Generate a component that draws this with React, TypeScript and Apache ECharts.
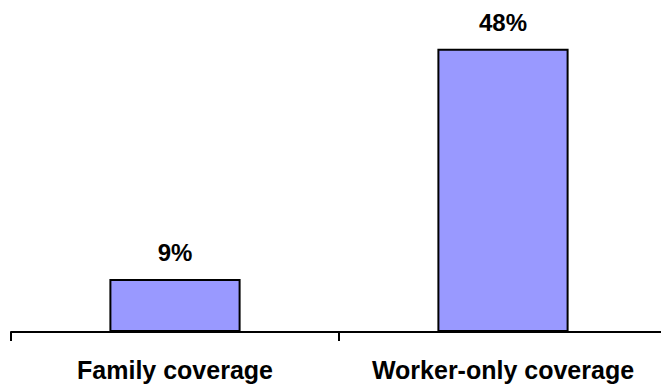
import React, { useEffect, useRef } from "react";
import * as echarts from "echarts";

const categories = ["Family coverage", "Worker-only coverage"];
const values = [9, 48];

export default function App() {
  const ref = useRef<HTMLDivElement>(null);
  useEffect(() => {
    if (!ref.current) return;
    const chart = echarts.init(ref.current, null, { renderer: "svg" });
    chart.setOption({
      animation: false,
      backgroundColor: "#ffffff",
      grid: {
        left: 11,
        width: 656,
        top: 37,
        bottom: 55,
        containLabel: false,
        outerBoundsMode: "none",
      },
      xAxis: {
        type: "category",
        data: categories,
        axisLine: { show: true, lineStyle: { color: "#000000", width: 2 } },
        axisTick: { show: true, length: 9, lineStyle: { color: "#000000", width: 2 } },
        axisLabel: {
          color: "#000000",
          fontFamily: "Liberation Sans, Arial, sans-serif",
          fontWeight: "bold",
          fontSize: 25,
          margin: 25,
          interval: 0,
        },
      },
      yAxis: {
        type: "value",
        min: 0,
        max: 50,
        show: false,
        splitLine: { show: false },
      },
      series: [
        {
          type: "bar",
          data: values,
          barWidth: "40%",
          itemStyle: { color: "#9999FF", borderColor: "#000000", borderWidth: 2 },
          label: {
            show: true,
            position: "top",
            distance: 14,
            formatter: "{c}%",
            color: "#000000",
            fontFamily: "Liberation Sans, Arial, sans-serif",
            fontWeight: "bold",
            fontSize: 24,
          },
        },
      ],
    });
    return () => chart.dispose();
  }, []);
  return (
    <div
      ref={ref}
      style={{ position: "absolute", left: 0, top: 0, width: 661, height: 387 }}
    />
  );
}
